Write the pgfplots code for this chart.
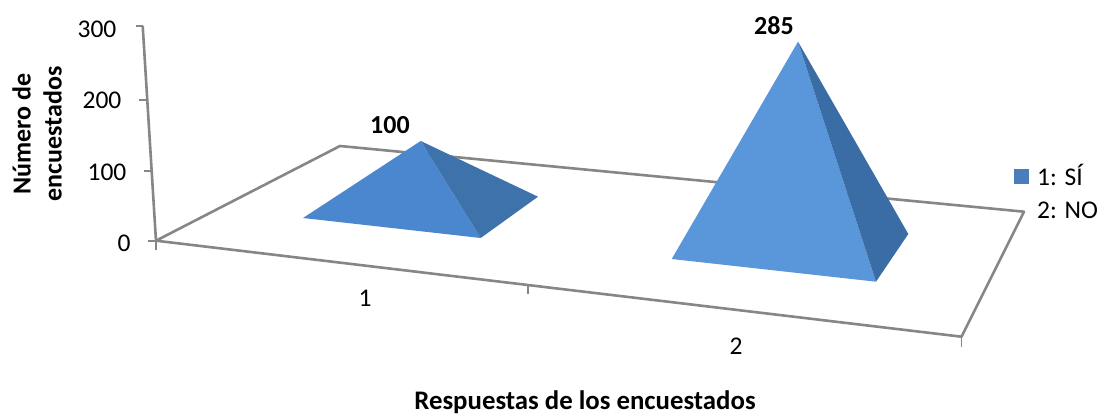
\documentclass[border=0pt]{standalone}
\usepackage{pgfplots}
\usepackage{pgfplotstable}
\pgfplotsset{compat=1.18}
\usepackage{fontspec}
\setmainfont{Carlito}
\definecolor{gridgray}{HTML}{868686}
\definecolor{swatch}{HTML}{4A7EBB}
\definecolor{faceA}{HTML}{4A87CE}
\definecolor{sideA}{HTML}{3E72AB}
\definecolor{faceB}{HTML}{5A96DA}
\definecolor{sideB}{HTML}{3A6DA6}
% Faces of each pyramid: py is the screen row of the base point, val the height it carries.
\pgfplotstableread{
px py val
420.7 207.5 100
303 218 0
480.7 238 0
}\frontA
\pgfplotstableread{
px py val
420.7 207.5 100
480.7 238 0
538 196.7 0
}\sideAtab
\pgfplotstableread{
px py val
798 246.5 285
671.7 259 0
876 281.7 0
}\frontB
\pgfplotstableread{
px py val
798 246.5 285
876 281.7 0
908.3 234 0
}\sideBtab
\begin{document}
\begin{tikzpicture}
\begin{axis}[
  scale only axis, width=1099pt, height=414pt,
  xmin=0, xmax=1099, ymin=0, ymax=414, y dir=reverse,
  axis lines=none, clip=false,
  legend style={at={(axis cs:1014,164.5)}, anchor=north west, draw=none, fill=none,
    font=\fontsize{25.5}{27}\selectfont, row sep=14pt, inner sep=0pt,
    nodes={inner sep=0pt, anchor=west}},
  legend cell align=left,
  every axis plot/.append style={no markers},
]
% picture frame
\path (axis cs:0,0) rectangle (axis cs:1099,414);
% floor of the plot
\addplot[gridgray, line width=2.6pt, line join=round, forget plot] coordinates {
  (156,240.7) (340,146) (1024,211.7) (961.5,336.7) (156,240.7)};
% value axis on the left wall
\addplot[gridgray, line width=2.6pt, forget plot] coordinates {(142.7,26) (156,241)};
\addplot[gridgray, line width=1.8pt, forget plot] coordinates {(135.5,26) (142.7,26)};
\addplot[gridgray, line width=1.8pt, forget plot] coordinates {(139,100) (147,100)};
\addplot[gridgray, line width=1.8pt, forget plot] coordinates {(144,171) (151,171)};
\addplot[gridgray, line width=1.8pt, forget plot] coordinates {(148,241) (156,241)};
% category ticks on the front edge
\addplot[gridgray, line width=1.8pt, forget plot] coordinates {(156,241) (156,250)};
\addplot[gridgray, line width=1.8pt, forget plot] coordinates {(528,285) (528,294)};
\addplot[gridgray, line width=1.8pt, forget plot] coordinates {(961.5,337) (961.5,347)};
% pyramids
\addplot[fill=faceA, draw=none, forget plot] table[x=px, y expr=\thisrow{py}-\thisrow{val}*0.665] {\frontA};
\addplot[fill=sideA, draw=none, forget plot] table[x=px, y expr=\thisrow{py}-\thisrow{val}*0.665] {\sideAtab};
\addplot[fill=faceB, draw=none, forget plot] table[x=px, y expr=\thisrow{py}-\thisrow{val}*0.7186] {\frontB};
\addplot[fill=sideB, draw=none, forget plot] table[x=px, y expr=\thisrow{py}-\thisrow{val}*0.7186] {\sideBtab};
% legend
\addlegendimage{legend image code/.code={\fill[swatch, draw=none] (0pt,-7.5pt) rectangle (15pt,7.5pt); \path[draw=none] (0pt,0pt) -- (23pt,0pt);}}
\addlegendentry{1: SÍ}
\addlegendimage{legend image code/.code={\path[draw=none] (0pt,0pt) -- (23pt,0pt);}}
\addlegendentry{2: NO}
% text
\newcommand{\tl}{\fontsize{25.5}{27}\selectfont}
\newcommand{\bl}{\fontsize{26}{31}\selectfont\bfseries}
\node[font=\tl] at (axis cs:97,29) {300};
\node[font=\tl] at (axis cs:102,100) {200};
\node[font=\tl] at (axis cs:107,172) {100};
\node[font=\tl] at (axis cs:124,243) {0};
\node[font=\tl] at (axis cs:365,298) {1};
\node[font=\tl] at (axis cs:736,346) {2};
\node[font=\bl] at (axis cs:390,125) {100};
\node[font=\bl] at (axis cs:774,26) {285};
\node[font=\fontsize{26.8}{28}\selectfont\bfseries] at (axis cs:585,402) {Respuestas de los encuestados};
\node[font=\bl, rotate=90, align=center] at (axis cs:37,134) {Número de\\encuestados};
\end{axis}
\end{tikzpicture}
\end{document}
